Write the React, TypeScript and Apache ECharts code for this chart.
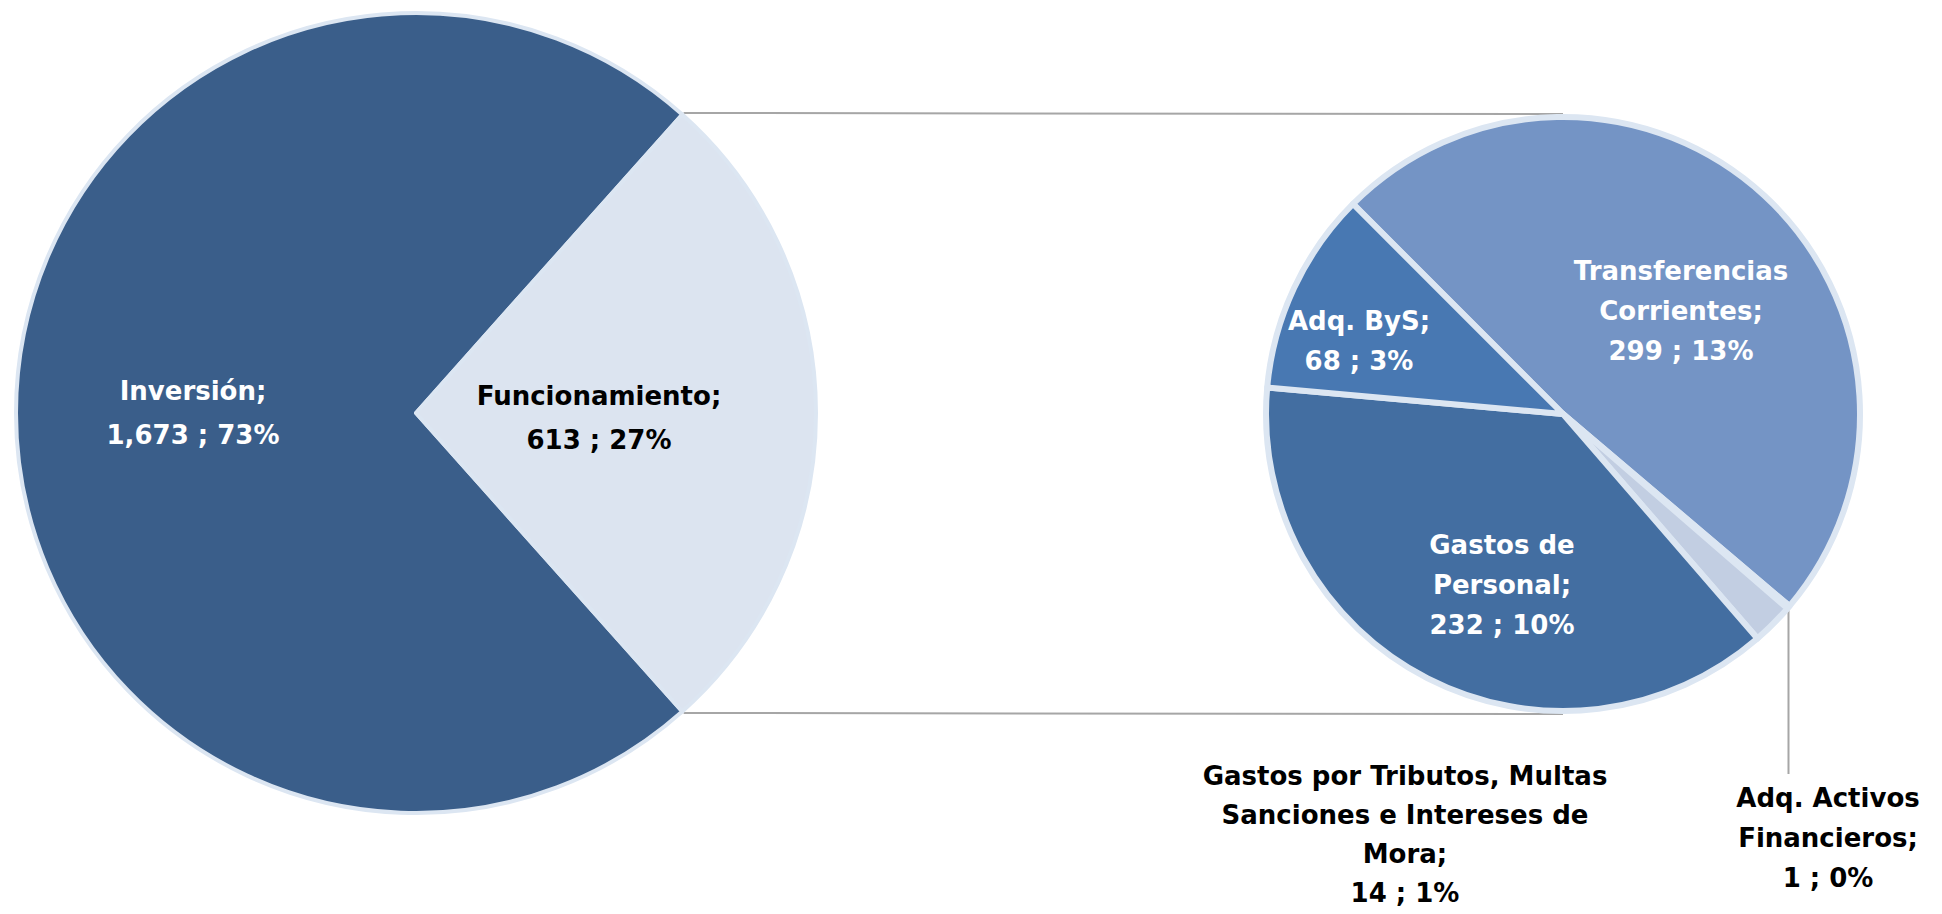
import React, { useEffect, useRef } from "react";
import * as echarts from "echarts";

// ---- data ----
const mainCategories = ["Inversión", "Funcionamiento"];
const mainValues = [1673, 613];

const subCategories = [
  "Transferencias\nCorrientes",
  "Adq. Activos\nFinancieros",
  "Gastos por Tributos, Multas\nSanciones e Intereses de\nMora",
  "Gastos de\nPersonal",
  "Adq. ByS",
];
const subValues = [299, 1, 14, 232, 68];

// ---- styles / layout ----
const mainColors = ["#3A5E8A", "#DCE4F0"];
const mainLabelColors = ["#FFFFFF", "#000000"];
const subColors = ["#7494C5", "#95B3D7", "#C2CEE2", "#436EA1", "#4878B2"];
const subLabelColors = ["#FFFFFF", "#000000", "#000000", "#FFFFFF", "#FFFFFF"];

const W = 1942;
const H = 914;
const LC = [416, 413];
const LR = 400;
const RC = [1563, 414];
const RR = 297;
const LINE_H = 40;
const MAIN_LINE_H = 44;
const FONT = "'DejaVu Sans', sans-serif";

const mainLabelOffsets = [
  [-223, 0],
  [183, 5],
];
const subLabelOffsets = [
  [118, -103],
  [265, 424],
  [-158, 420],
  [-61, 171],
  [-204, -73],
];

const total = mainValues.reduce((a, b) => a + b, 0);
const fmtNum = (v: number) => v.toLocaleString("en-US");
const pct = (v: number) => Math.round((v / total) * 100) + "%";
const labelText = (name: string, v: number) => `${name};\n${fmtNum(v)} ; ${pct(v)}`;

export default function App() {
  const ref = useRef<HTMLDivElement>(null);

  useEffect(() => {
    document.body.style.margin = "0";
    const chart = echarts.init(ref.current!, null, { renderer: "svg" });

    const half = (Math.PI * mainValues[1]) / total; // half-angle of Funcionamiento slice
    const halfDeg = (half * 180) / Math.PI;
    const px = LC[0] + (LR + 2) * Math.cos(half);
    const pyTop = LC[1] - (LR + 2) * Math.sin(half);
    const pyBot = LC[1] + (LR + 2) * Math.sin(half);

    const mainData = mainCategories.map((n, i) => ({
      name: n,
      value: mainValues[i],
      itemStyle: { color: mainColors[i] },
      label: { color: mainLabelColors[i] },
    }));

    const subData = subCategories.map((n, i) => ({
      name: n,
      value: subValues[i],
      itemStyle: { color: subColors[i] },
      label: {
        color: subLabelColors[i],
        position: i === 1 || i === 2 ? "outside" : "inside",
        lineHeight: i === 2 ? 39 : LINE_H,
      },
      labelLine: { show: i === 1 },
    }));

    const labelCommon = {
      show: true,
      fontFamily: FONT,
      fontWeight: "bold",
      fontSize: 26,
      lineHeight: LINE_H,
      align: "center",
    };

    chart.setOption({
      animation: false,
      backgroundColor: "#FFFFFF",
      graphic: [
        {
          type: "line",
          z: 0,
          shape: { x1: px, y1: pyTop, x2: RC[0], y2: RC[1] - RR - 3 },
          style: { stroke: "#A6A6A6", lineWidth: 2 },
        },
        {
          type: "line",
          z: 0,
          shape: { x1: px, y1: pyBot, x2: RC[0], y2: RC[1] + RR + 3 },
          style: { stroke: "#A6A6A6", lineWidth: 2 },
        },
      ],
      series: [
        {
          type: "pie",
          center: LC,
          radius: LR,
          startAngle: 360 - halfDeg,
          clockwise: true,
          avoidLabelOverlap: false,
          emphasis: { disabled: true },
          itemStyle: { borderColor: "#DCE6F2", borderWidth: 4 },
          label: {
            ...labelCommon,
            lineHeight: MAIN_LINE_H,
            position: "inside",
            formatter: (p: any) => labelText(p.name, p.value),
          },
          labelLayout: (p: any) => ({
            x: LC[0] + mainLabelOffsets[p.dataIndex][0],
            y: LC[1] + mainLabelOffsets[p.dataIndex][1],
            align: "center",
            verticalAlign: "middle",
          }),
          data: mainData,
        },
        {
          type: "pie",
          center: RC,
          radius: RR,
          startAngle: 135,
          clockwise: true,
          avoidLabelOverlap: false,
          emphasis: { disabled: true },
          itemStyle: { borderColor: "#DCE6F2", borderWidth: 6 },
          label: {
            ...labelCommon,
            formatter: (p: any) => labelText(p.name, p.value),
          },
          labelLine: {
            lineStyle: { color: "#A6A6A6", width: 2 },
            length: 10,
            length2: 10,
          },
          labelLayout: (p: any) => {
            const x = RC[0] + subLabelOffsets[p.dataIndex][0];
            const y = RC[1] + subLabelOffsets[p.dataIndex][1];
            const out: any = { x, y, align: "center", verticalAlign: "middle" };
            if (p.dataIndex === 1 && p.labelLinePoints && p.labelLinePoints.length) {
              const s = p.labelLinePoints[0];
              const topY = y - (3 * LINE_H) / 2 - 4;
              out.labelLinePoints = [
                [s[0], s[1]],
                [s[0], topY],
                [s[0], topY],
              ];
            }
            return out;
          },
          data: subData,
        },
      ],
    });

    return () => chart.dispose();
  }, []);

  return (
    <div
      ref={ref}
      style={{ position: "absolute", left: 0, top: 0, width: W, height: H }}
    />
  );
}
